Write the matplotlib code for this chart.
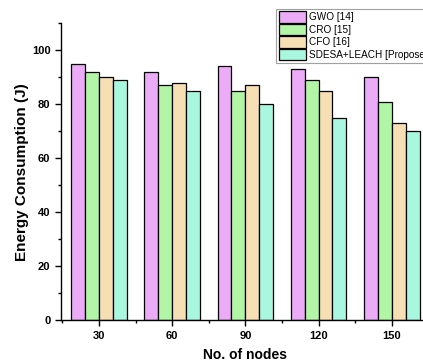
import matplotlib.pyplot as plt
import numpy as np
from matplotlib.ticker import MultipleLocator

plt.rcParams['font.family'] = ['Liberation Sans', 'DejaVu Sans']

# data
nodes = ['30', '60', '90', '120', '150']
gwo = [95, 92, 94, 93, 90]
cro = [92, 87, 85, 89, 81]
cfo = [90, 88, 87, 85, 73]
sdesa = [89, 85, 80, 75, 70]

labels = ['GWO [14]', 'CRO [15]', 'CFO [16]', 'SDESA+LEACH [Proposed]']
colors = ['#EBABF7', '#B3F5A6', '#F7DFB5', '#AAF7E0']

fig = plt.figure(figsize=(4.23, 3.63), dpi=100)
fig.patch.set_facecolor('white')
ax = fig.add_axes([0.144, 0.118, 0.872, 0.818])

x = np.arange(len(nodes))
w = 0.19
series = [gwo, cro, cfo, sdesa]
handles = []
for i, vals in enumerate(series):
    b = ax.bar(x + (i - 1.5) * w, vals, w, color=colors[i], edgecolor='black',
               linewidth=0.9, label=labels[i])
    handles.append(b)

ax.set_xlim(-0.52, 4.52)
ax.set_ylim(0, 110)
ax.set_xticks(x)
ax.set_xticklabels(nodes, fontweight='bold', fontsize=8)
ax.xaxis.set_minor_locator(MultipleLocator(0.5))
ax.yaxis.set_major_locator(MultipleLocator(20))
ax.yaxis.set_minor_locator(MultipleLocator(10))
for lab in ax.get_yticklabels():
    lab.set_fontweight('bold')
    lab.set_fontsize(8)
ax.tick_params(which='major', direction='out', length=4, width=1)
ax.tick_params(which='minor', direction='out', length=2.5, width=1)

for s in ['top', 'right']:
    ax.spines[s].set_visible(False)
for s in ['left', 'bottom']:
    ax.spines[s].set_linewidth(1)

ax.set_ylabel('Energy Consumption (J)', fontweight='bold', fontsize=11, labelpad=2)
ax.set_xlabel('No. of nodes', fontweight='bold', fontsize=10, labelpad=5)

leg = fig.legend(handles=handles, labels=labels, loc='upper left',
                 bbox_to_anchor=(276 / 423, 1 - 9 / 363), fontsize=7.2,
                 frameon=True, fancybox=False, edgecolor='#888888',
                 handlelength=2.7, handleheight=1.35, handletextpad=0.3,
                 labelspacing=0.12, borderpad=0.25, borderaxespad=0)
leg.get_frame().set_linewidth(0.8)

fig.savefig('out.png', dpi=100)
